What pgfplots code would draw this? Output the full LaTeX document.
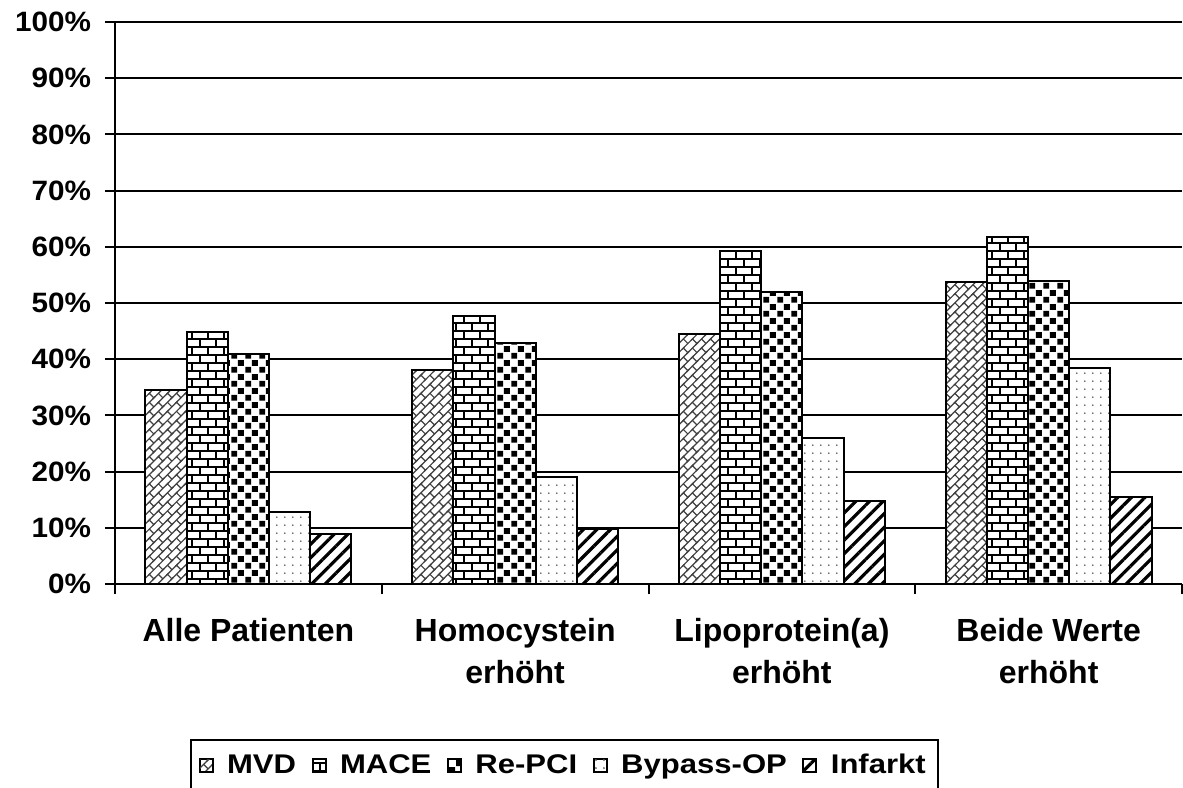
\documentclass[border=0pt]{standalone}
\usepackage{fontspec}
\setmainfont{Liberation Sans}
\newfontfamily\tickfont{Liberation Sans}[FakeStretch=1.06]
\newfontfamily\legfont{Liberation Sans}[FakeStretch=1.15]
\usepackage{pgfplots}
\pgfplotsset{compat=1.18}
\usetikzlibrary{patterns.meta}

\pgfdeclarepattern{
  name=hbricks, type=uncolored,
  bottom left={\pgfpoint{-1pt}{-1pt}}, top right={\pgfpoint{9pt}{9pt}},
  tile size={\pgfpoint{8pt}{8pt}},
  code={
    \pgfsetlinewidth{0.8pt}
    \pgfpathmoveto{\pgfpoint{-1pt}{0pt}}\pgfpathlineto{\pgfpoint{9pt}{0pt}}
    \pgfpathmoveto{\pgfpoint{-1pt}{4pt}}\pgfpathlineto{\pgfpoint{9pt}{4pt}}
    \pgfpathmoveto{\pgfpoint{0pt}{0pt}}\pgfpathlineto{\pgfpoint{0pt}{4pt}}
    \pgfpathmoveto{\pgfpoint{4pt}{4pt}}\pgfpathlineto{\pgfpoint{4pt}{8pt}}
    \pgfusepath{stroke}
  }
}
\pgfdeclarepattern{
  name=dbricks, type=uncolored,
  bottom left={\pgfpoint{-1pt}{-1pt}}, top right={\pgfpoint{7.4pt}{7.4pt}},
  tile size={\pgfpoint{6.4pt}{6.4pt}},
  tile transformation={\pgftransformrotate{45}},
  code={
    \pgfsetlinewidth{0.6pt}
    \pgfpathmoveto{\pgfpoint{-1pt}{0pt}}\pgfpathlineto{\pgfpoint{7.4pt}{0pt}}
    \pgfpathmoveto{\pgfpoint{-1pt}{3.2pt}}\pgfpathlineto{\pgfpoint{7.4pt}{3.2pt}}
    \pgfpathmoveto{\pgfpoint{0pt}{0pt}}\pgfpathlineto{\pgfpoint{0pt}{3.2pt}}
    \pgfpathmoveto{\pgfpoint{3.2pt}{3.2pt}}\pgfpathlineto{\pgfpoint{3.2pt}{6.4pt}}
    \pgfusepath{stroke}
  }
}
\pgfdeclarepattern{
  name=checker, type=uncolored,
  bottom left={\pgfpoint{0pt}{0pt}}, top right={\pgfpoint{6.8pt}{6.8pt}},
  tile size={\pgfpoint{6.8pt}{6.8pt}},
  code={
    \pgfpathrectangle{\pgfpoint{0.2pt}{0.2pt}}{\pgfpoint{3.0pt}{3.0pt}}
    \pgfpathrectangle{\pgfpoint{3.6pt}{3.6pt}}{\pgfpoint{3.0pt}{3.0pt}}
    \pgfusepath{fill}
  }
}
\pgfdeclarepattern{
  name=sdots, type=uncolored,
  bottom left={\pgfpoint{0pt}{0pt}}, top right={\pgfpoint{3.9pt}{3.9pt}},
  tile size={\pgfpoint{3.9pt}{3.9pt}},
  code={
    \pgfpathcircle{\pgfpoint{1.95pt}{1.95pt}}{0.5pt}
    \pgfusepath{fill}
  }
}

\begin{document}
\begin{tikzpicture}
\useasboundingbox (-57.5pt,-101.5pt) rectangle (534pt,292pt);
\begin{axis}[
  at={(0,0)}, anchor=south west,
  scale only axis, width=533.5pt, height=281pt,
  ybar=0pt, bar width=20.6pt,
  xmin=-0.5, xmax=3.5, ymin=0, ymax=100,
  axis x line*=bottom, axis y line*=left,
  axis line style={line width=1pt, black},
  ytick={0,10,...,100},
  yticklabels={0\%,10\%,20\%,30\%,40\%,50\%,60\%,70\%,80\%,90\%,100\%},
  ymajorgrids, major grid style={line width=1pt, black},
  tick align=outside, major tick length=5pt, tick style={line width=1pt, black},
  xtick={-0.5,0.5,1.5,2.5,3.5}, xticklabels={},
  extra x ticks={0,1,2,3},
  extra x tick labels={Alle Patienten,{Homocystein\\erhöht},{Lipoprotein(a)\\erhöht},{Beide Werte\\erhöht}},
  extra x tick style={major tick length=0pt, grid=none,
     xticklabel style={align=center, inner sep=0pt, yshift=-17pt,
       font=\bfseries\fontsize{16}{21}\selectfont}},
  yticklabel style={font=\tickfont\bfseries\fontsize{14}{16}\selectfont, xshift=-3.5pt},
  legend columns=5,
  legend style={at={(axis description cs:0.0703,-0.2758)}, anchor=north west,
     draw=black, line width=1pt, inner xsep=4pt, inner ysep=5pt,
     font=\legfont\bfseries\fontsize{13.5}{15}\selectfont,
     /tikz/every odd column/.append style={column sep=5pt},
     /tikz/every even column/.append style={column sep=6pt}},
  legend image code/.code={\draw[#1, line width=0.5pt] (0pt,-3.25pt) rectangle (6.5pt,3.25pt);},
]
\addplot[draw=black, line width=1pt, preaction={fill=white}, pattern=dbricks, pattern color=black!75]
  coordinates {(0,34.6) (1,38.1) (2,44.4) (3,53.8)};
\addplot[draw=black, line width=1pt, preaction={fill=white}, pattern=hbricks, pattern color=black]
  coordinates {(0,44.9) (1,47.7) (2,59.3) (3,61.7)};
\addplot[draw=black, line width=1pt, preaction={fill=white}, pattern=checker, pattern color=black]
  coordinates {(0,41.0) (1,42.9) (2,52.0) (3,53.9)};
\addplot[draw=black, line width=1pt, preaction={fill=white}, pattern=sdots, pattern color=black!60]
  coordinates {(0,12.9) (1,19.0) (2,25.9) (3,38.5)};
\addplot[draw=black, line width=1pt, preaction={fill=white}, pattern={Lines[angle=45,distance=4.8pt,line width=1.6pt]}, pattern color=black]
  coordinates {(0,8.95) (1,9.7) (2,14.8) (3,15.4)};
\legend{MVD,MACE,Re-PCI,Bypass-OP,Infarkt}
\end{axis}
\end{tikzpicture}
\end{document}
